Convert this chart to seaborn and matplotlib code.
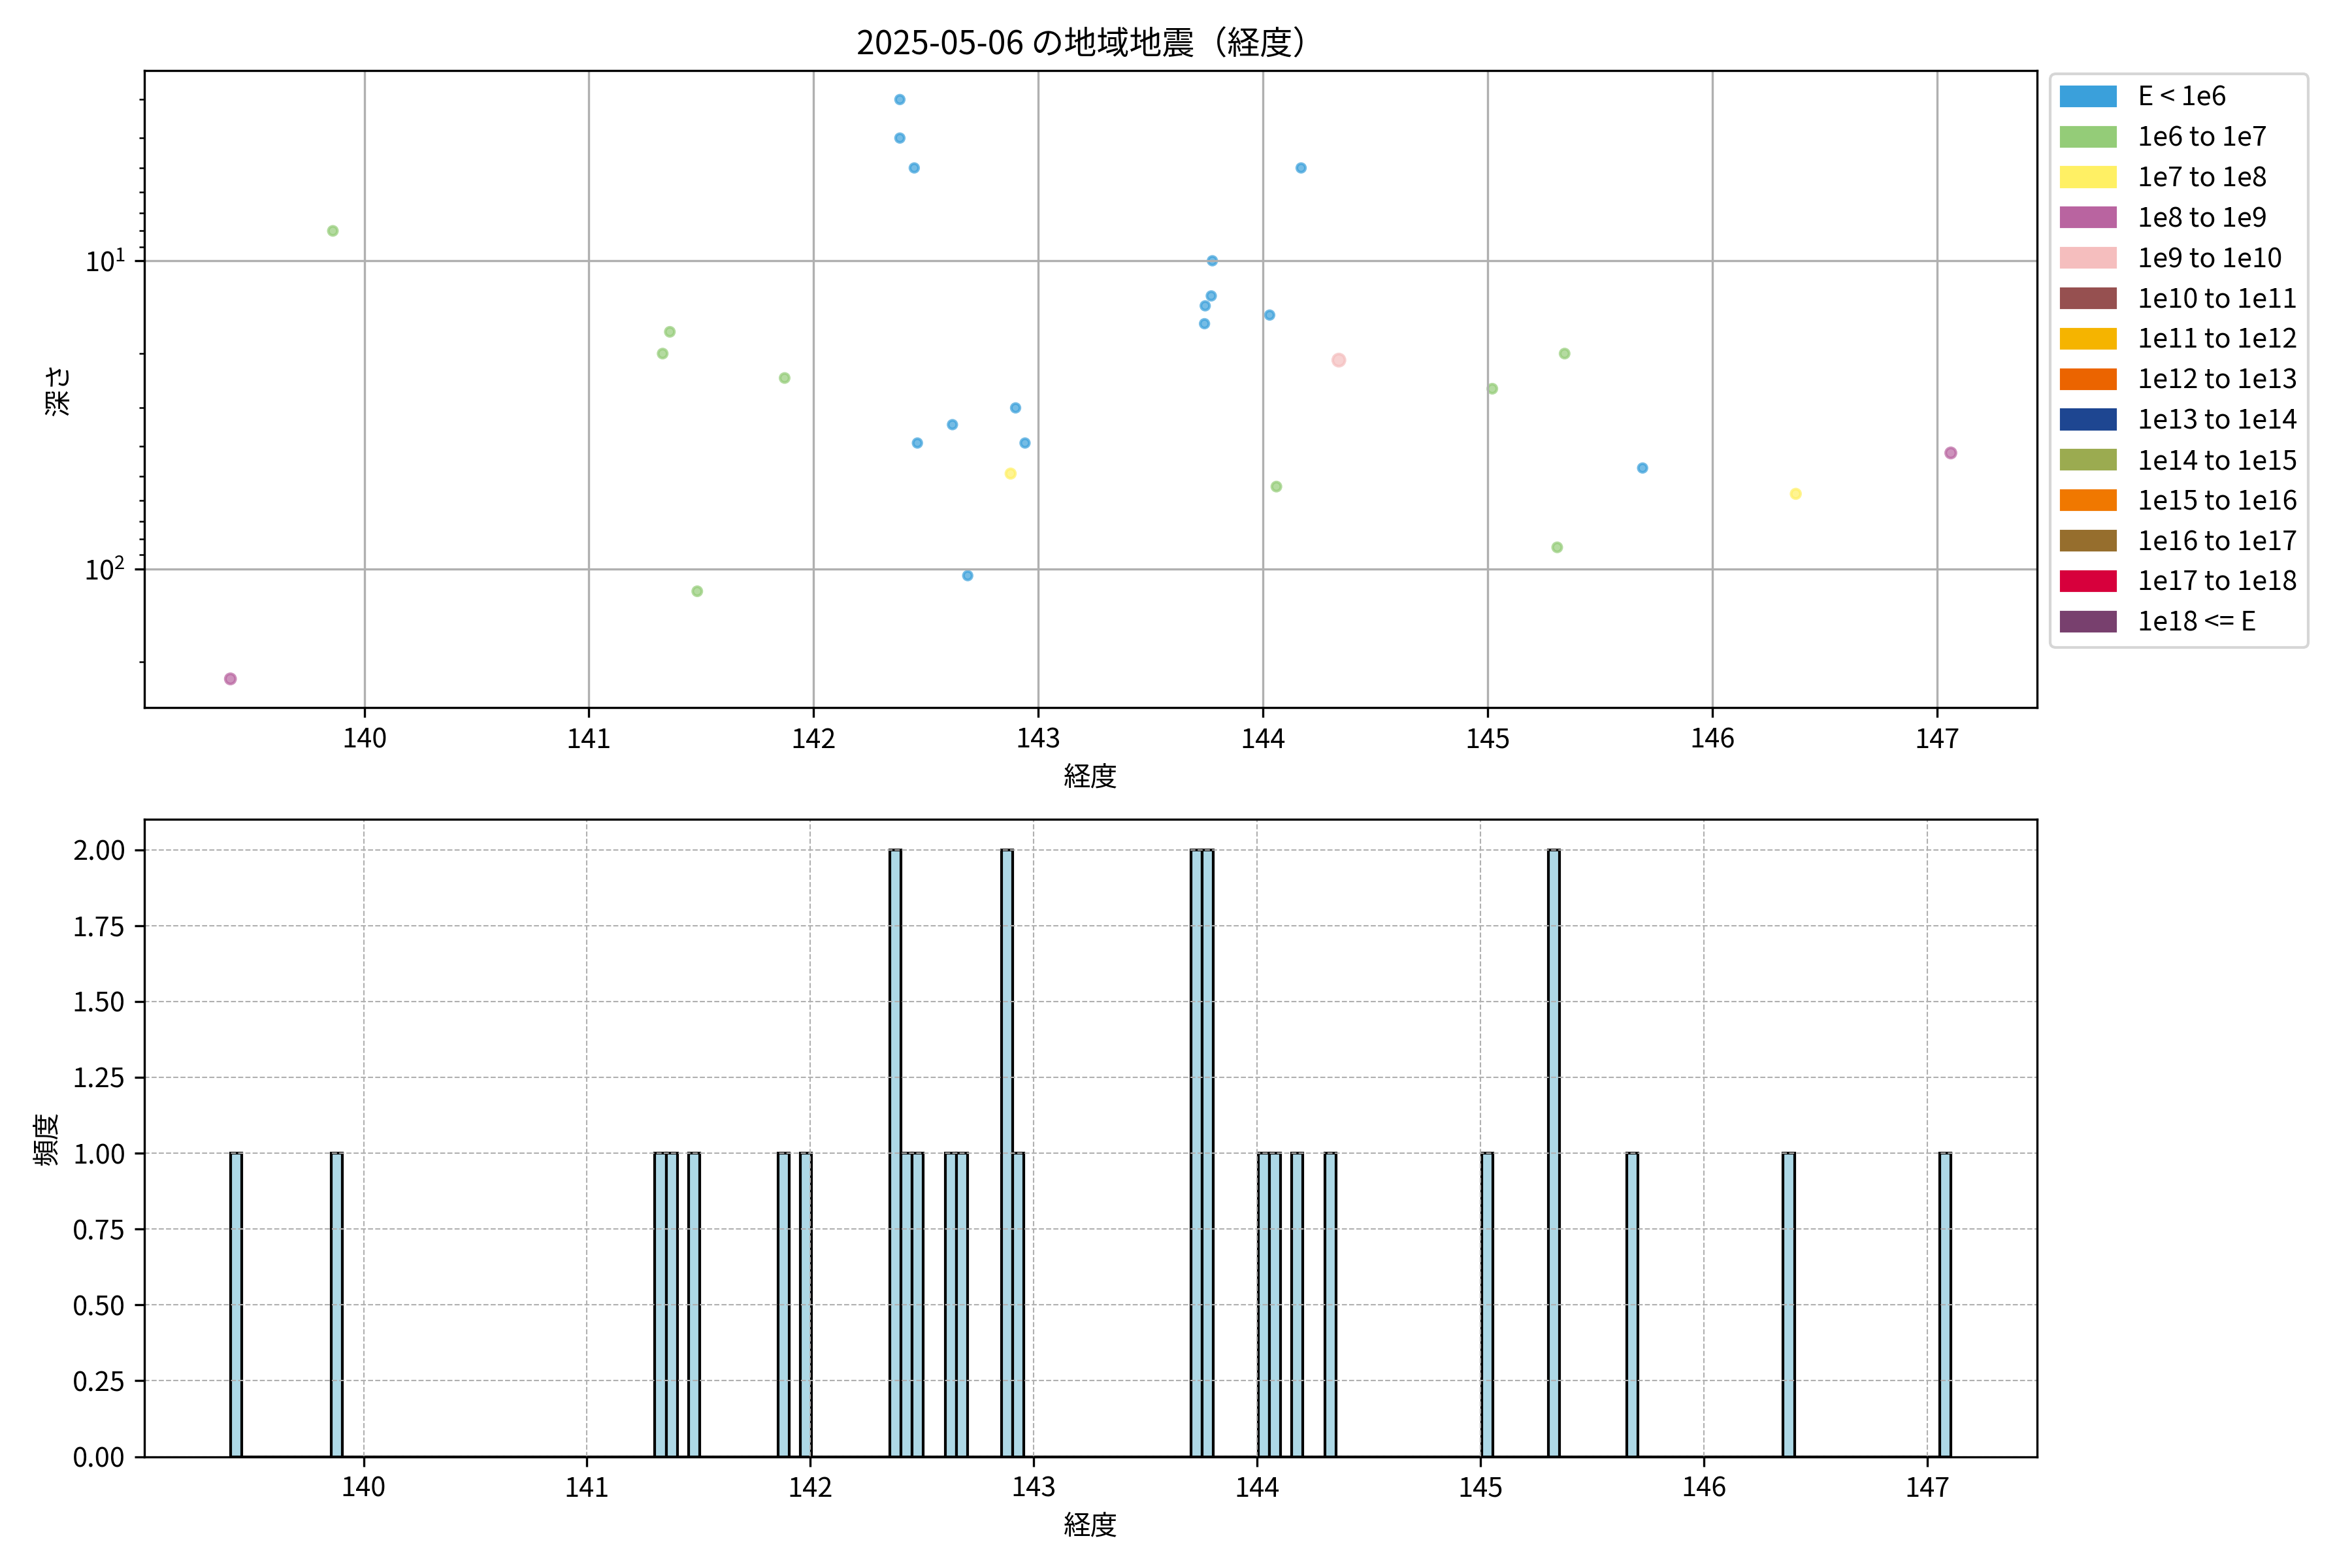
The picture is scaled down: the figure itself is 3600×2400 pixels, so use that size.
import numpy as np
import pandas as pd
import matplotlib
matplotlib.use('Agg')
import matplotlib.pyplot as plt
import matplotlib.patches as mpatches
import seaborn as sns

plt.rcParams['font.family'] = ['Noto Sans CJK JP', 'DejaVu Sans']
plt.rcParams['mathtext.fontset'] = 'custom'
plt.rcParams['mathtext.rm'] = 'Noto Sans CJK JP'
plt.rcParams['axes.unicode_minus'] = False

# Data
date_str = '2025-05-06'

longitude = [142.384, 142.384, 142.448, 144.17, 143.775, 143.770, 143.743, 143.740,
             144.030, 142.899, 142.618, 142.462, 142.941, 145.69, 142.686,
             139.86, 141.36, 141.328, 141.871, 145.343, 145.021, 144.060, 145.31, 141.482,
             142.877, 146.372,
             139.404, 147.062,
             144.338,
             141.97]
depth = [3, 4, 5, 5, 10, 13, 14, 16,
         15, 30, 34, 39, 39, 47, 105,
         8, 17, 20, 24, 20, 26, 54, 85, 118,
         49, 57,
         227, 42,
         21,
         0]
# index into class_labels
energy_class = [0, 0, 0, 0, 0, 0, 0, 0,
                0, 0, 0, 0, 0, 0, 0,
                1, 1, 1, 1, 1, 1, 1, 1, 1,
                2, 2,
                3, 3,
                4,
                0]

class_labels = ['E < 1e6', '1e6 to 1e7', '1e7 to 1e8', '1e8 to 1e9', '1e9 to 1e10',
                '1e10 to 1e11', '1e11 to 1e12', '1e12 to 1e13', '1e13 to 1e14',
                '1e14 to 1e15', '1e15 to 1e16', '1e16 to 1e17', '1e17 to 1e18',
                '1e18 <= E']
class_colors = ['#3aa0db', '#94cc78', '#fff064', '#b964a0', '#f5bebe',
                '#965050', '#f5b400', '#eb6400', '#1e4691',
                '#9bab50', '#f07800', '#966e2d', '#d7003c', '#78406e']

# marker size grows with energy class
marker_sizes = [10, 11, 12, 14, 20, 24, 28, 32, 36, 40, 44, 48, 52, 56]

bin_width = 0.05

df = pd.DataFrame({'lon': longitude, 'depth': depth,
                   'cls': [class_labels[c] for c in energy_class]})
shown = df[df['depth'] > 0]

fig, (ax1, ax2) = plt.subplots(2, 1, figsize=(12, 8), dpi=300)
fig.subplots_adjust(left=0.0614, right=0.866, top=0.955, bottom=0.071, hspace=0.175)

# Top: depth vs longitude, coloured by energy class
sns.scatterplot(data=shown, x='lon', y='depth', hue='cls',
                palette=dict(zip(class_labels, class_colors)),
                size='cls', sizes=dict(zip(class_labels, marker_sizes)),
                alpha=0.7, edgecolor='face', linewidth=1, legend=False, ax=ax1)
ax1.set_yscale('log')
ax1.invert_yaxis()
ax1.grid(True)
ax1.set_title(f'{date_str} の地域地震（経度）')
ax1.set_xlabel('経度')
ax1.set_ylabel('深さ')

handles = [mpatches.Patch(color=c, label=l) for l, c in zip(class_labels, class_colors)]
ax1.legend(handles=handles, loc='upper left', bbox_to_anchor=(1.0, 1.016))

# Bottom: histogram of longitudes
lon = np.array(longitude)
bins = np.arange(lon.min(), lon.max() + bin_width, bin_width)
sns.histplot(x=lon, bins=bins, color='lightblue', edgecolor='black',
             alpha=1, linewidth=1, ax=ax2)
ax2.grid(True, linestyle='--', linewidth=0.5)
ax2.set_xlabel('経度')
ax2.set_ylabel('頻度')
ax2.yaxis.set_major_formatter(matplotlib.ticker.FormatStrFormatter('%.2f'))

fig.savefig('out.png', dpi=300)
